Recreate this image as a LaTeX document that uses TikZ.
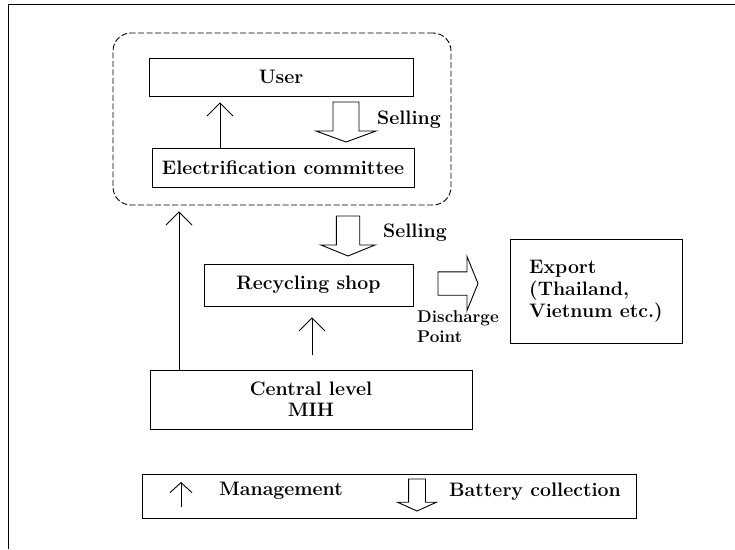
\documentclass[tikz,border=0pt]{standalone}
\usepackage{fontspec}
\usetikzlibrary{arrows.meta}

\tikzset{
    box/.style={draw, line width=0.9pt, inner sep=0pt},
    mgmt/.style={-{Straight Barb[length=13pt,width=26pt]}, line width=0.9pt},
    pics/blockarrow/.style={code={
        \draw[line width=0.9pt, line join=miter] (0,-13) -- (29,-13) -- (29,-30) -- (40,0) -- (29,30) -- (29,13) -- (0,13) -- cycle;
    }},
}

\begin{document}
\begin{tikzpicture}[x=1pt, y=-1pt, font=\fontsize{19.5}{22}\selectfont\bfseries]
            \useasboundingbox (0,0) rectangle (735,549);

            \draw[line width=0.9pt] (735,4) -- (8,4) -- (8,549);

            \node[draw, dash pattern=on 6pt off 2.5pt, line width=0.9pt, rounded corners=18pt, minimum width=338pt, minimum height=172pt] (group) at (282,119) {};

            \node[box, minimum width=264pt, minimum height=38pt] (user) at (281,77) {User};
            \node[box, minimum width=262pt, minimum height=39pt] (committee) at (283,167.5) {Electrification committee};
            \node[box, minimum width=209pt, minimum height=42pt] (shop) at (308.5,285) {Recycling shop};
            \node[box, minimum width=172pt, minimum height=104pt, align=left] (export) at (596,291) {Export\\(Thailand,\\Vietnum etc.)};
            \node[box, minimum width=322pt, minimum height=59pt, align=center] (central) at (311,399.5) {Central level\\[-1pt]MIH};
            \node[box, minimum width=494pt, minimum height=44pt] (legend) at (389,496) {};

            \coordinate (m1) at (220,0);
            \coordinate (m2) at (179,0);
            \coordinate (m3) at (312,0);
            \draw[mgmt, shorten >=6pt] (committee.north -| m1) -- (user.south -| m1);
            \draw[mgmt, shorten >=6pt] (central.north -| m2) -- (group.south -| m2);
            \draw[mgmt, shorten <=15pt, shorten >=11pt] (central.north -| m3) -- (shop.south -| m3);

            \pic[rotate=-90] at (346,102) {blockarrow};
            \pic[rotate=-90, yscale=0.9] at (348,216) {blockarrow};
            \pic[yscale=0.9] at (438,283.5) {blockarrow};

            \node (sell1) at (409,120) {Selling};
            \node (sell2) at (415,233) {Selling};
            \node[font=\fontsize{17}{20}\selectfont\bfseries, align=left] (discharge) at (458,327) {Discharge\\Point};

            \draw[mgmt, -{Straight Barb[length=10pt,width=22pt]}] (181,507) -- (181,482);
            \node (management) at (281,491) {Management};
            \pic[rotate=-90, xscale=0.8, yscale=0.65] at (417,479) {blockarrow};
            \node (collection) at (535,492) {Battery collection};
        \end{tikzpicture}
\end{document}
